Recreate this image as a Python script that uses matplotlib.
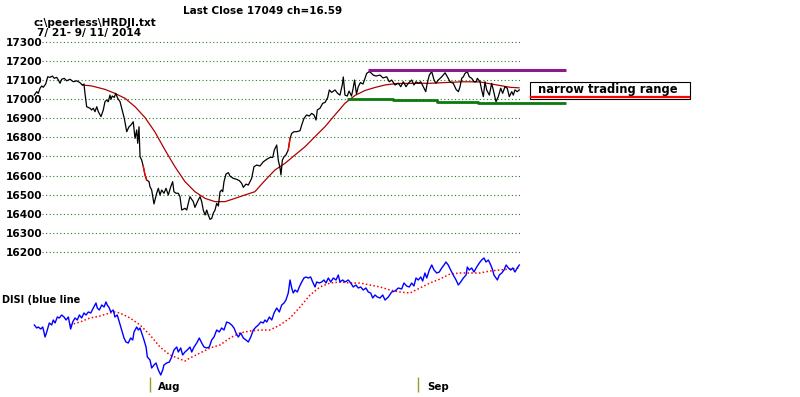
import numpy as np
import matplotlib
matplotlib.use('Agg')
import matplotlib.pyplot as plt
from matplotlib.patches import Rectangle
from matplotlib.lines import Line2D

plt.rcParams.update({
    "font.family": "DejaVu Sans",
    "font.weight": "bold",
})

# ====================================================================
# data  (x = trading days since 7/21/2014, intraday samples)
# ====================================================================
price_day = [
    0.00, 0.19, 0.31, 0.45, 0.58, 0.70, 0.89, 1.05, 1.23, 1.41, 1.56, 1.75, 1.88, 2.01,
    2.14, 2.34, 2.53, 2.79, 3.05, 3.31, 3.57, 3.75, 3.88, 3.96, 4.09, 4.35, 4.48, 4.61,
    4.74, 4.88, 5.00, 5.21, 5.39, 5.52, 5.66, 5.78, 5.91, 5.99, 6.09, 6.25, 6.36, 6.52,
    6.70, 6.83, 7.03, 7.22, 7.40, 7.55, 7.73, 7.87, 8.00, 8.08, 8.18, 8.26, 8.39, 8.52,
    8.65, 8.78, 8.96, 9.04, 9.17, 9.35, 9.56, 9.69, 9.82, 9.95, 10.13, 10.29, 10.47,
    10.66, 10.81, 10.91, 11.07, 11.25, 11.38, 11.52, 11.64, 11.77, 11.91, 12.03, 12.16,
    12.30, 12.42, 12.55, 12.69, 12.81, 12.95, 13.08, 13.20, 13.34, 13.47, 13.59, 13.73,
    13.86, 13.98, 14.12, 14.25, 14.38, 14.51, 14.64, 14.72, 14.82, 14.98, 15.16, 15.29,
    15.55, 15.81, 16.02, 16.20, 16.33, 16.54, 16.72, 16.98, 17.16, 17.38, 17.63, 17.89,
    18.16, 18.41, 18.63, 18.75, 18.94, 19.06, 19.20, 19.27, 19.38, 19.51, 19.66, 19.84,
    19.98, 20.11, 20.29, 20.50, 20.76, 20.89, 21.07, 21.28, 21.48, 21.67, 21.85, 22.01,
    22.11, 22.32, 22.53, 22.71, 22.92, 23.05, 23.23, 23.49, 23.70, 23.88, 24.06, 24.14,
    24.27, 24.45, 24.59, 24.78, 24.90, 25.02, 25.17, 25.31, 25.48, 25.68, 25.97, 26.16,
    26.30, 26.48, 26.70, 27.01, 27.24, 27.53, 27.73, 27.92, 28.18, 28.44, 28.63, 28.83,
    29.04, 29.22, 29.48, 29.66, 29.82, 30.00, 30.19, 30.39, 30.58, 30.70, 30.86, 31.05,
    31.23, 31.38, 31.56, 31.83, 32.09, 32.27, 32.48, 32.73, 32.95, 33.13, 33.26, 33.39,
    33.52, 33.65, 33.83, 33.98, 34.17, 34.35, 34.51, 34.61, 34.82, 34.95, 35.08, 35.21,
    35.34, 35.55, 35.73, 35.86, 36.07, 36.25, 36.44, 36.59, 36.77, 36.95, 37.11, 37.30,
    37.42, 37.55, 37.73, 37.89,
]
price_close = [
    17022, 17040, 17031, 17058, 17070, 17063, 17080, 17118, 17115, 17122, 17110, 17115, 17101, 17084,
    17105, 17110, 17097, 17105, 17092, 17097, 17087, 17075, 17080, 17031, 16961, 16953, 16944, 16953,
    16935, 16961, 16935, 16909, 16944, 16987, 16996, 16987, 17022, 17000, 17017, 17010, 17031, 17005,
    16987, 16953, 16900, 16830, 16856, 16865, 16882, 16795, 16839, 16769, 16856, 16699, 16681, 16646,
    16603, 16576, 16568, 16541, 16524, 16451, 16507, 16533, 16498, 16524, 16507, 16533, 16498,
    16541, 16568, 16515, 16507, 16507, 16489, 16419, 16423, 16428, 16419, 16454, 16489,
    16475, 16463, 16433, 16454, 16472, 16489, 16463, 16419, 16393, 16419, 16393, 16370,
    16375, 16402, 16419, 16454, 16440, 16515, 16524, 16515, 16568, 16608, 16615, 16597,
    16585, 16580, 16573, 16559, 16538, 16555, 16550, 16585, 16646, 16655, 16650, 16672,
    16685, 16695, 16695, 16734, 16760, 16681, 16638, 16603, 16681, 16699, 16708, 16734,
    16795, 16821, 16830, 16830, 16835, 16865, 16900, 16918, 16912, 16926, 16918, 16891,
    16944, 16953, 16979, 16983, 17009, 17049, 17036, 17049, 17031, 17022, 17075, 17117,
    17022, 17017, 17043, 17017, 17054, 17101, 17028, 17066, 17088, 17080, 17136, 17145,
    17139, 17127, 17122, 17127, 17112, 17118, 17092, 17101, 17075, 17084, 17066, 17092,
    17066, 17084, 17101, 17075, 17092, 17084, 17092, 17066, 17040, 17084, 17127, 17145,
    17101, 17084, 17101, 17118, 17139, 17118, 17092, 17084, 17052, 17040, 17066, 17110,
    17118, 17136, 17145, 17118, 17110, 17092, 17092, 17110, 17092, 17049, 17014, 17092,
    17049, 17022, 17084, 17049, 16987, 17014, 17058, 17031, 17066, 17058, 17014, 17040,
    17022, 17049, 17040, 17049,
]
# short red pieces painted on the price line
price_red_spans = [(8.50, 8.80), (19.80, 20.00)]

price_ma_day = [
    3.75, 4.48, 5.52, 6.30, 7.09, 7.87, 8.65, 9.43, 10.21, 10.99, 11.77, 12.55, 13.34,
    14.12, 14.90, 15.68, 16.46, 17.23, 18.02, 18.80, 19.59, 20.37, 21.15, 21.93, 22.71,
    23.49, 24.27, 25.05, 25.83, 26.62, 27.40, 28.34, 30.90, 33.49, 34.82, 36.15, 37.16, 37.87,
]
price_ma = [
    17075, 17070, 17052, 17031, 17005, 16961, 16904, 16828, 16734, 16646, 16568, 16515, 16480,
    16463, 16463, 16480, 16498, 16515, 16574, 16629, 16664, 16708, 16751, 16804, 16856,
    16918, 16979, 17020, 17046, 17062, 17075, 17083, 17084, 17092, 17091, 17075, 17063, 17060,
]

resist_level = 17153
resist_span = (26.10, 41.55)
support_day = [24.43, 28.02, 31.46, 34.67, 41.55]
support_level = [17001, 16996, 16988, 16980, 16980]

disi_day = [
    0.00, 0.19, 0.31, 0.50, 0.66, 0.84, 0.97, 1.17, 1.36, 1.48, 1.62, 1.80, 1.95, 2.14,
    2.32, 2.48, 2.66, 2.84, 3.00, 3.18, 3.36, 3.52, 3.70, 3.88, 4.04, 4.22, 4.41, 4.61,
    4.82, 4.92, 5.08, 5.27, 5.45, 5.60, 5.70, 5.86, 5.97, 6.17, 6.30, 6.48, 6.64, 6.83,
    7.01, 7.16, 7.34, 7.53, 7.69, 7.79, 8.00, 8.13, 8.26, 8.39, 8.57, 8.73, 8.83, 9.04,
    9.17, 9.35, 9.51, 9.69, 9.88, 10.03, 10.13, 10.34, 10.55, 10.73, 10.91, 11.13, 11.25,
    11.44, 11.59, 11.77, 11.95, 12.16, 12.30, 12.48, 12.69, 12.89, 13.08, 13.26, 13.47,
    13.67, 13.86, 14.04, 14.25, 14.45, 14.64, 14.82, 15.03, 15.23, 15.42, 15.60, 15.76,
    15.94, 16.13, 16.33, 16.54, 16.72, 16.91, 17.11, 17.32, 17.50, 17.69, 17.89, 18.02,
    18.16, 18.36, 18.55, 18.73, 18.94, 19.14, 19.33, 19.51, 19.66, 19.84, 19.98, 20.11,
    20.23, 20.37, 20.55, 20.70, 20.89, 21.07, 21.23, 21.41, 21.59, 21.75, 21.93, 22.06,
    22.27, 22.45, 22.63, 22.79, 22.97, 23.16, 23.36, 23.57, 23.75, 23.88, 24.09, 24.27,
    24.53, 24.72, 24.92, 25.13, 25.31, 25.50, 25.70, 25.91, 26.09, 26.28, 26.44, 26.62,
    26.80, 27.01, 27.22, 27.40, 27.66, 27.92, 28.18, 28.44, 28.70, 28.88, 29.09, 29.30,
    29.48, 29.66, 29.82, 30.00, 30.19, 30.34, 30.52, 30.66, 30.86, 31.05, 31.23, 31.44,
    31.64, 31.83, 32.01, 32.16, 32.34, 32.53, 32.73, 32.95, 33.13, 33.31, 33.52, 33.73,
    33.83, 33.98, 34.17, 34.35, 34.56, 34.77, 34.95, 35.13, 35.29, 35.47, 35.66, 35.81,
    35.91, 36.07, 36.18, 36.33, 36.52, 36.70, 36.86, 37.04, 37.23, 37.38, 37.55, 37.73, 37.89,
]
disi = [
    65, 62, 63, 61, 63, 53, 58, 67, 65, 70, 67, 73, 72, 75,
    73, 70, 73, 61, 68, 72, 70, 75, 72, 77, 75, 78, 77, 82,
    87, 82, 80, 85, 83, 88, 85, 82, 78, 80, 73, 75, 68, 60,
    52, 48, 47, 52, 50, 58, 63, 60, 62, 57, 50, 43, 33, 30,
    22, 25, 27, 20, 15, 20, 25, 27, 28, 33, 40, 43, 38,
    42, 35, 38, 40, 43, 38, 43, 47, 52, 47, 43, 42,
    43, 50, 53, 60, 58, 62, 60, 68, 67, 65, 62, 57,
    53, 57, 52, 50, 48, 53, 60, 63, 65, 68, 67, 70,
    68, 73, 70, 77, 82, 78, 85, 87, 90, 97, 110, 102,
    97, 100, 98, 103, 108, 112, 113, 112, 113, 108, 103, 108,
    107, 108, 110, 107, 112, 108, 112, 110, 115, 108, 110, 108,
    110, 107, 103, 105, 102, 103, 100, 102, 98, 97, 92, 95,
    93, 92, 95, 90, 93, 98, 99, 102, 101, 107, 104, 103,
    107, 104, 112, 110, 113, 109, 117, 112, 120, 125, 120, 117,
    118, 122, 125, 128, 125, 120, 115, 110, 105, 108, 112, 115,
    123, 120, 122, 118, 123, 127, 130, 132, 128, 130, 125, 120,
    115, 112, 110, 115, 117, 120, 125, 122, 120, 122, 118, 122, 125,
]
disi_ma_day = [
    2.79, 3.57, 4.35, 5.13, 5.91, 6.30, 6.70, 7.48, 8.26, 9.04, 9.82, 10.60, 11.38, 11.77,
    12.16, 12.95, 13.73, 14.51, 15.29, 16.07, 16.85, 17.63, 18.41, 19.20, 19.98, 20.76,
    21.54, 22.32, 23.10, 23.88, 24.66, 25.45, 26.23, 27.01, 27.79, 28.57, 29.35, 30.13,
    30.91, 31.70, 32.48, 33.26, 34.04, 34.82, 35.61, 36.39, 37.17, 37.89,
]
disi_ma = [
    65, 68, 72, 74, 77, 78, 77, 72, 65, 55, 43, 35, 31, 29,
    32, 37, 42, 45, 52, 57, 59, 60, 60, 65, 72, 83,
    95, 103, 107, 108, 107, 107, 105, 103, 100, 98, 97, 102,
    107, 111, 116, 117, 117, 117, 119, 120, 121, 122,
]

grid_levels = np.arange(16200, 17301, 100)
month_names = ['Aug', 'Sep']
month_start = [9, 30]          # first trading day of each month

# ====================================================================
# layout (800 x 397 px canvas)
# ====================================================================
W, H = 800, 397
day0_px, px_per_day = 34.3, 12.8
top_px, px_per_pt = 42.1, 0.1906   # 17300 sits at y = 42.1 px


def day_at(x):
    return (x - day0_px) / px_per_day


def price_at(y):
    return 17300 - (y - top_px) / px_per_pt


def fx(x):
    return x / W


def fy(y):
    return 1 - y / H


fig = plt.figure(figsize=(W / 100, H / 100), dpi=100)
fig.patch.set_facecolor('white')

# ---------------- price panel ----------------
ax_p = fig.add_axes([fx(30), fy(255), fx(530) - fx(30), fy(40) - fy(255)])
ax_p.set_xlim(day_at(30), day_at(530))
ax_p.set_ylim(price_at(255), price_at(40))
for s in ax_p.spines.values():
    s.set_visible(False)
ax_p.set_xticks([])
ax_p.set_yticks(grid_levels)
ax_p.set_yticklabels([f'{v}' for v in grid_levels], fontsize=7.6, fontweight='bold')
ax_p.tick_params(axis='y', length=0, pad=-8.6)

ax_p.hlines(grid_levels, day_at(42), day_at(520), colors='#2a7a2a',
            linestyles=(0, (1, 2.2)), lw=0.8, zorder=1)

pd_ = np.array(price_day)
pc_ = np.array(price_close)
ax_p.plot(pd_, pc_, color='black', lw=0.9, zorder=3)
for a, b in price_red_spans:
    m = (pd_ >= a) & (pd_ <= b)
    ax_p.plot(pd_[m], pc_[m], color='red', lw=1.0, zorder=4)
ax_p.plot(price_ma_day, price_ma, color='#b00000', lw=0.9, zorder=2)

ax_p.plot(resist_span, [resist_level, resist_level], color='#8a1a8a', lw=2.2,
          solid_capstyle='butt', clip_on=False, zorder=5)
ax_p.plot(support_day, support_level, color='#0a7a0a', lw=2.0, drawstyle='steps-post',
          solid_capstyle='butt', clip_on=False, zorder=5)

# ---------------- DISI panel ----------------
ax_d = fig.add_axes([fx(30), 0, fx(530) - fx(30), fy(255)])
ax_d.set_xlim(day_at(30), day_at(530))
ax_d.set_ylim(-7, 135)
ax_d.axis('off')
ax_d.plot(disi_day, disi, color='#0000ff', lw=1.0, zorder=3)
ax_d.plot(disi_ma_day, disi_ma, color='#ff0000', lw=1.1,
          linestyle=(0, (1, 1.5)), zorder=2)
for name, d in zip(month_names, month_start):
    ax_d.vlines(d, -2, 13, color='#9c9a28', lw=1.0)
    ax_d.text(d + 0.67, 3, name, fontsize=7.4, fontweight='bold',
              ha='left', va='center')

# ---------------- texts ----------------
fig.text(fx(183), fy(11.5), 'Last Close 17049 ch=16.59', fontsize=7.5,
         fontweight='bold', ha='left', va='center')
fig.text(fx(33), fy(23.5), r'c:\peerless\HRDJI.txt', fontsize=7.6,
         fontweight='bold', ha='left', va='center')
fig.text(fx(37), fy(33), '7/ 21- 9/ 11/ 2014', fontsize=7.6,
         fontweight='bold', ha='left', va='center')
fig.text(fx(2), fy(300), 'DISI (blue line', fontsize=7.0,
         fontweight='bold', ha='left', va='center')

# annotation box
fig.add_artist(Rectangle((fx(529.5), fy(98.5)), fx(690) - fx(529.5), fy(81.5) - fy(98.5),
                         transform=fig.transFigure, facecolor='white',
                         edgecolor='black', lw=0.8, zorder=6))
fig.add_artist(Line2D([fx(531), fx(689)], [fy(97), fy(97)], transform=fig.transFigure,
                      color='#ff0000', lw=1.6, zorder=7))
fig.text(fx(538), fy(90), 'narrow trading range', fontsize=8.3,
         fontweight='bold', ha='left', va='center', zorder=8)

fig.savefig('out.png', dpi=100)
